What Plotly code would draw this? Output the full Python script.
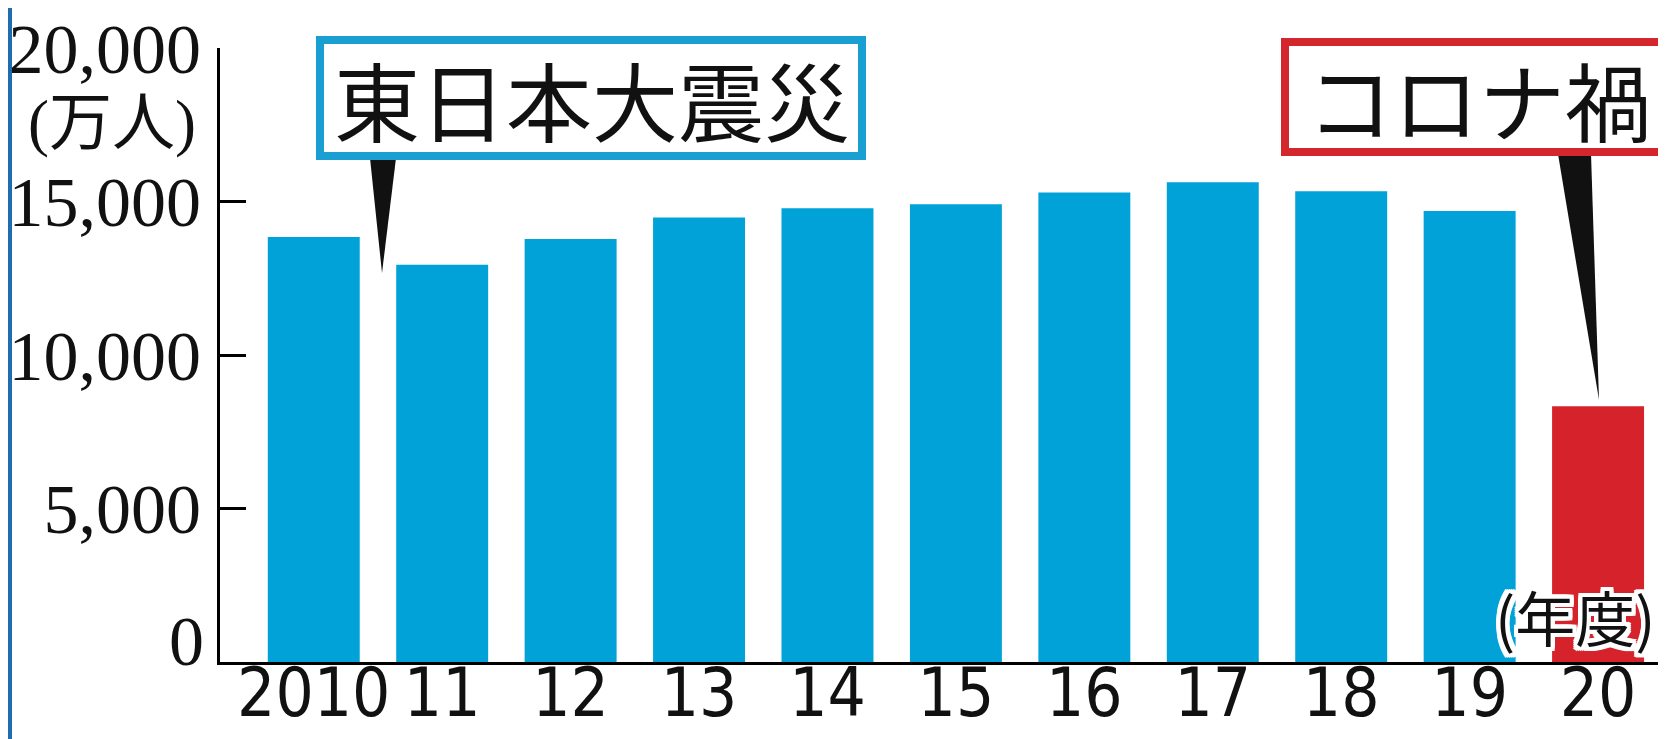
import plotly.graph_objects as go

# ---- data ----
years = ["2010", "11", "12", "13", "14", "15", "16", "17", "18", "19", "20"]
passengers = [13840, 12940, 13780, 14480, 14780, 14910, 15290, 15630, 15330, 14690, 8330]
y_ticks = [0, 5000, 10000, 15000, 20000]
y_tick_labels = ["", "5,000", "10,000", "15,000", "20,000"]
unit_label = "(万人)"
year_label = "(年度)"
note_quake = "東日本大震災"
note_corona = "コロナ禍"

# ---- styling ----
BLUE = "#00a2d8"
RED = "#d6222a"
bar_colors = [BLUE] * (len(years) - 1) + [RED]

W, H = 1666, 739
L, R, T, B = 212, 13, 40, 85
PW = W - L - R
PH = H - T - B


def px(x):
    return (x - L) / PW


def py(y):
    return (H - B - y) / PH


fig = go.Figure()
fig.add_trace(go.Bar(x=years, y=passengers, marker=dict(color=bar_colors, line=dict(width=0)),
                     hoverinfo="x+y"))

serif = "Liberation Serif, Noto Sans CJK JP"
sans_cjk = "Noto Sans CJK JP, Noto Sans"
narrow = "DejaVu Sans Condensed, Liberation Sans Narrow, Roboto Condensed, Roboto"

fig.update_layout(
    width=W, height=H,
    margin=dict(l=L, r=R, t=T, b=B, pad=0, autoexpand=False),
    paper_bgcolor="white", plot_bgcolor="white",
    showlegend=False,
    bargap=0.284,
    xaxis=dict(type="category", range=[-0.73, 10.49], showgrid=False, zeroline=False,
               showline=True, linecolor="black", linewidth=3, ticks="", tickangle=0,
               automargin=False,
               tickfont=dict(family=narrow, size=67, color="#111"), ticklabelstandoff=-29),
    yaxis=dict(range=[0, 20000], tickvals=y_ticks, ticktext=y_tick_labels, automargin=False,
               showgrid=False, zeroline=False, showline=True, linecolor="black", linewidth=3,
               ticks="inside", ticklen=26, tickwidth=3, tickcolor="black", ticklabelstandoff=2,
               tickfont=dict(family=serif, size=70, color="#111")),
)

shapes = []
# left stripe
shapes.append(dict(type="rect", xref="paper", yref="paper", x0=px(0), x1=px(4), y0=py(H), y1=py(0),
                   fillcolor="#1f6db0", line=dict(width=0), layer="above"))
# quake box + pointer
shapes.append(dict(type="path", xref="paper", yref="paper",
                   path=f"M {px(362)},{py(150)} L {px(388)},{py(150)} L {px(374)},{py(265)} Z",
                   fillcolor="#111", line=dict(width=0)))
shapes.append(dict(type="rect", xref="paper", yref="paper", x0=px(312), x1=px(854), y0=py(148), y1=py(32),
                   fillcolor="white", line=dict(color="#1a9fd2", width=8)))
# corona box + pointer
shapes.append(dict(type="path", xref="paper", yref="paper",
                   path=f"M {px(1550)},{py(146)} L {px(1583)},{py(146)} L {px(1591)},{py(392)} Z",
                   fillcolor="#111", line=dict(width=0)))
shapes.append(dict(type="rect", xref="paper", yref="paper", x0=px(1277), x1=px(1660), y0=py(144), y1=py(34),
                   fillcolor="white", line=dict(color="#d3262d", width=8)))
fig.update_layout(shapes=shapes)

halo = ", ".join(f"white {dx}px {dy}px 0" for dx in (-4, -2, 0, 2, 4) for dy in (-4, -2, 0, 2, 4))

annotations = [
    dict(text=note_quake, x=px(584), y=py(90), font=dict(family=sans_cjk, size=86, color="#111")),
    dict(text=note_corona, x=px(1471), y=py(90), font=dict(family=sans_cjk, size=86, color="#111")),
    dict(text=unit_label, x=px(104), y=py(115), font=dict(family=serif, size=63, color="#111")),
    dict(text="0", x=px(198), y=py(633), xanchor="right", font=dict(family=serif, size=70, color="#111")),
    dict(text=year_label, x=px(1567), y=py(607), font=dict(family=sans_cjk, size=60, color="#111", shadow=halo)),
]
for a in annotations:
    a.update(xref="paper", yref="paper", showarrow=False)
    a.setdefault("xanchor", "center")
    a.setdefault("yanchor", "middle")
fig.update_layout(annotations=annotations)

fig.write_html("out.html")
